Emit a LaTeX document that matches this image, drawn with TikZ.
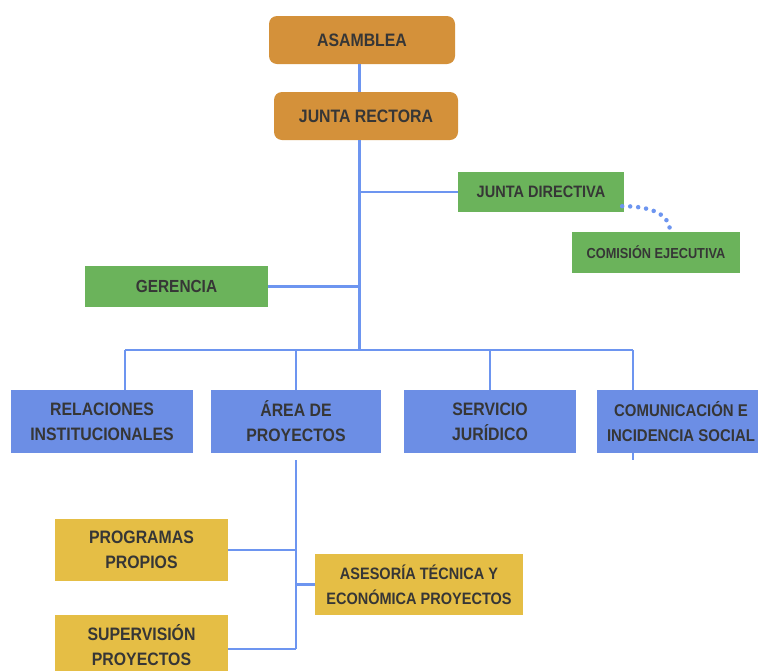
\documentclass[tikz,border=0pt]{standalone}
\usepackage{fontspec}
\setmainfont{Liberation Sans}[FakeStretch=0.88]
\definecolor{orangebox}{HTML}{D4913A}
\definecolor{greenbox}{HTML}{6BB35B}
\definecolor{bluebox}{HTML}{6C8EE5}
\definecolor{yellowbox}{HTML}{E5BE45}
\definecolor{linkblue}{HTML}{6D95F0}
\definecolor{txt}{HTML}{363636}
\tikzset{
  box/.style={inner sep=0pt, text=txt, font=\bfseries\fontsize{18}{25}\selectfont, align=center},
  orbox/.style={box, fill=orangebox, rounded corners=8pt},
  grbox/.style={box, fill=greenbox},
  blbox/.style={box, fill=bluebox},
  yebox/.style={box, fill=yellowbox},
  link/.style={draw=linkblue, line width=2.2pt},
  trunk/.style={draw=linkblue, line width=3pt},
}
\begin{document}
\begin{tikzpicture}[x=1pt,y=-1pt]
\clip (0,0) rectangle (758,670);
\fill[white] (0,0) rectangle (758,670);
\coordinate (tx) at (359,0);
\coordinate (bus) at (359,350);
\coordinate (b1) at (125,350);
\coordinate (b4) at (633,350);
\coordinate (a1) at (296,460);
% nodes
\node[orbox, minimum width=186pt, minimum height=48pt] (asam) at (362,40) {ASAMBLEA};
\node[orbox, minimum width=184pt, minimum height=48pt] (jr) at (366,116) {JUNTA RECTORA};
\node[grbox, minimum width=166pt, minimum height=40pt, font=\bfseries\fontsize{16.5}{18}\selectfont] (jd) at (541,192) {JUNTA DIRECTIVA};
\node[grbox, minimum width=168pt, minimum height=41pt, font=\bfseries\fontsize{14.5}{16}\selectfont] (ce) at (656,252.5) {COMISIÓN EJECUTIVA};
\node[grbox, minimum width=183pt, minimum height=41pt, font=\bfseries\fontsize{17.5}{18}\selectfont] (ger) at (176.5,286.5) {GERENCIA};
\node[blbox, minimum width=182pt, minimum height=63pt] (rel) at (102,421.5) {RELACIONES\\INSTITUCIONALES};
\node[blbox, minimum width=170pt, minimum height=63pt] (area) at (296,421.5) {ÁREA DE\\PROYECTOS};
\node[blbox, minimum width=172pt, minimum height=63pt] (serv) at (490,421.5) {SERVICIO\\JURÍDICO};
\node[blbox, minimum width=168pt, minimum height=63pt, font=\bfseries\fontsize{17}{25}\selectfont] (com) at (681,421.5) {COMUNICACIÓN E\\INCIDENCIA SOCIAL};
\node[yebox, minimum width=173pt, minimum height=62pt] (prog) at (141.5,550) {PROGRAMAS\\PROPIOS};
\node[yebox, minimum width=208pt, minimum height=61pt, font=\bfseries\fontsize{16.5}{25}\selectfont] (ases) at (419,584.5) {ASESORÍA TÉCNICA Y\\ECONÓMICA PROYECTOS};
\node[yebox, minimum width=173pt, minimum height=60pt] (sup) at (141.5,645) {SUPERVISIÓN\\PROYECTOS};
% connectors
\draw[trunk] (asam.south -| tx) -- (jr.north -| tx);
\draw[trunk] (jr.south -| tx) -- (bus);
\draw[link] (tx |- jd.west) -- (jd.west);
\draw[link] (ger.east) -- (ger.east -| tx);
\draw[link] (b1) -- (b4);
\draw[link] (b1) -- (b1 |- rel.north);
\draw[link] (area.north |- bus) -- (area.north);
\draw[link] (serv.north |- bus) -- (serv.north);
\draw[link] (b4) -- (b4 |- com.north);
\draw[link] (b4 |- com.south) -- ++(0,7);
\draw[link] (a1) -- ([yshift=-4pt]a1 |- sup.east);
\draw[link] (prog.east) -- (prog.east -| a1);
\draw[link] (ases.west) -- (ases.west -| a1);
\draw[link] ([yshift=-4pt]sup.east) -- ([yshift=-4pt]sup.east -| a1);
\draw[draw=linkblue, line width=4.5pt, line cap=round, dash pattern=on 0pt off 8pt]
  ([xshift=-2pt,yshift=6pt]jd.south east) to[out=0,in=90] ([xshift=14pt]ce.north);
\end{tikzpicture}
\end{document}
